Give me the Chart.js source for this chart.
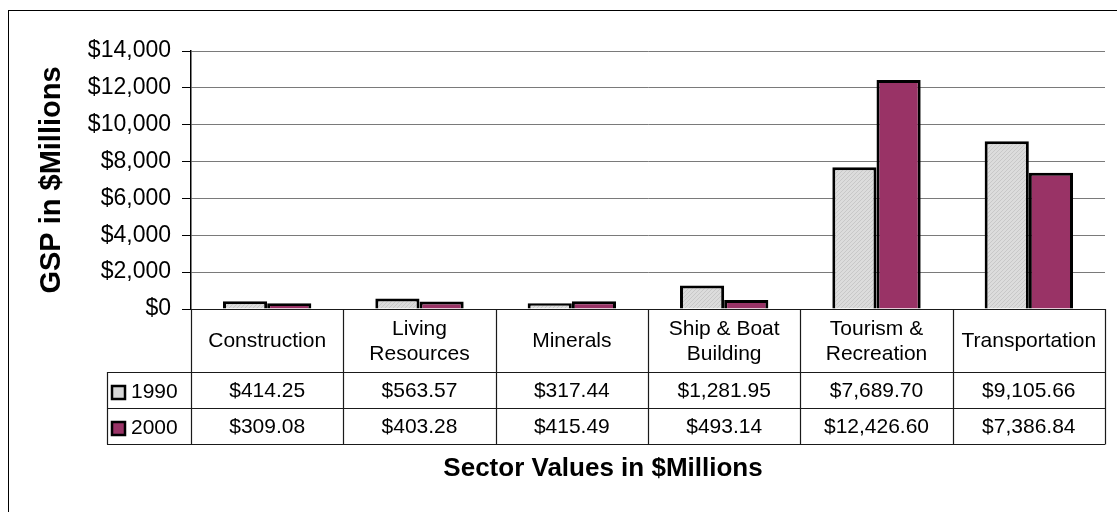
<!DOCTYPE html>
<html>
<head>
<meta charset="utf-8">
<script src="https://cdn.jsdelivr.net/npm/chart.js@4"></script>
<style>
  html, body { margin: 0; padding: 0; background: #fff; }
  canvas { display: block; }
</style>
</head>
<body>
<canvas id="gspChart" width="1117" height="512"></canvas>
<script>
// Chart data
const categories = [
  ["Construction"],
  ["Living", "Resources"],
  ["Minerals"],
  ["Ship & Boat", "Building"],
  ["Tourism &", "Recreation"],
  ["Transportation"],
];
const seriesNames = ["1990", "2000"];
const values1990 = [414.25, 563.57, 317.44, 1281.95, 7689.7, 9105.66];
const values2000 = [309.08, 403.28, 415.49, 493.14, 12426.6, 7386.84];
const yMin = 0;
const yMax = 14000;
const yStep = 2000;

const yTitle = "GSP in $Millions";
const xTitle = "Sector Values in $Millions";

// Format money like the data table
function formatMoney(v, decimals) {
  return "$" + v.toLocaleString("en-US", {
    minimumFractionDigits: decimals,
    maximumFractionDigits: decimals,
  });
}

// Light gray fill with a fine texture for the 1990 bars
function makeGrayPattern() {
  const c = document.createElement("canvas");
  c.width = 4;
  c.height = 4;
  const g = c.getContext("2d");
  g.fillStyle = "#dcdcdc";
  g.fillRect(0, 0, 4, 4);
  g.fillStyle = "#c8c8c8";
  for (let i = 0; i < 4; i++) g.fillRect(i, (i * 3) % 4, 1, 1);
  return g.createPattern(c, "repeat");
}

const colors2000 = "#993366";
const fills = [makeGrayPattern(), colors2000];
const keyFills = ["#d6d6d6", colors2000];

// Data table, frame and titles drawn under the plot
const tablePlugin = {
  id: "dataTable",
  afterDraw(chart) {
    const ctx = chart.ctx;
    const area = chart.chartArea;
    const xs = chart.scales.x;
    const n = categories.length;
    const colW = (area.right - area.left) / n;

    const headTop = area.bottom;
    const row1 = 372;
    const row2 = 408;
    const row3 = 444;
    const legendLeft = 107;

    ctx.save();

    // outer frame
    ctx.strokeStyle = "#000";
    ctx.lineWidth = 1;
    ctx.strokeRect(8.5, 10.5, 1300, 700);

    // table lines
    ctx.strokeStyle = "#1a1a1a";
    ctx.lineWidth = 1.2;
    ctx.beginPath();
    ctx.moveTo(area.left, headTop + 0.5);
    ctx.lineTo(area.right, headTop + 0.5);
    [row1, row2, row3].forEach((y) => {
      ctx.moveTo(legendLeft, y + 0.5);
      ctx.lineTo(area.right, y + 0.5);
    });
    for (let i = 0; i <= n; i++) {
      const x = Math.round(area.left + i * colW) + 0.5;
      ctx.moveTo(x, headTop);
      ctx.lineTo(x, row3 + 0.5);
    }
    ctx.moveTo(legendLeft + 0.5, row1);
    ctx.lineTo(legendLeft + 0.5, row3 + 0.5);
    ctx.stroke();

    // header text
    ctx.fillStyle = "#000";
    ctx.textAlign = "center";
    ctx.textBaseline = "middle";
    ctx.font = "21px 'Liberation Sans', Arial, sans-serif";
    const headMid = (headTop + row1) / 2 + 1;
    const lineH = 25;
    categories.forEach((lines, i) => {
      const cx = xs.getPixelForValue(i);
      const start = headMid - ((lines.length - 1) * lineH) / 2;
      lines.forEach((t, j) => ctx.fillText(t, cx, start + j * lineH));
    });

    // value rows
    const rowMids = [(row1 + row2) / 2 + 1, (row2 + row3) / 2 + 1];
    [values1990, values2000].forEach((vals, r) => {
      vals.forEach((v, i) => {
        ctx.fillText(formatMoney(v, 2), xs.getPixelForValue(i), rowMids[r]);
      });
      // legend key + series name
      ctx.fillStyle = keyFills[r];
      ctx.fillRect(112, rowMids[r] - 5, 13, 13);
      ctx.strokeStyle = "#000";
      ctx.lineWidth = 2.5;
      ctx.strokeRect(112, rowMids[r] - 5, 13, 13);
      ctx.fillStyle = "#000";
      ctx.textAlign = "left";
      ctx.fillText(seriesNames[r], 131, rowMids[r] + 1);
      ctx.textAlign = "center";
    });

    // x title
    ctx.font = "bold 26px 'Liberation Sans', Arial, sans-serif";
    ctx.fillText(xTitle, 603, 469);

    // y title
    ctx.translate(52, (area.top + area.bottom) / 2);
    ctx.rotate(-Math.PI / 2);
    ctx.font = "bold 29px 'Liberation Sans', Arial, sans-serif";
    ctx.fillText(yTitle, 0, 0);

    ctx.restore();
  },
};

const ctx = document.getElementById("gspChart").getContext("2d");
new Chart(ctx, {
  type: "bar",
  data: {
    labels: categories.map((c) => c.join(" ")),
    datasets: [
      {
        label: seriesNames[0],
        data: values1990,
        backgroundColor: fills[0],
        borderColor: "#000",
        borderWidth: 3,
      },
      {
        label: seriesNames[1],
        data: values2000,
        backgroundColor: fills[1],
        borderColor: "#000",
        borderWidth: 3,
      },
    ],
  },
  options: {
    responsive: false,
    animation: false,
    devicePixelRatio: 1,
    layout: {
      padding: { left: 0, right: 12, top: 51, bottom: 203 },
    },
    datasets: {
      bar: { barPercentage: 1, categoryPercentage: 0.58 },
    },
    plugins: {
      legend: { display: false },
      tooltip: { enabled: false },
    },
    scales: {
      x: { display: false },
      y: {
        min: yMin,
        max: yMax,
        afterFit(scale) {
          scale.width = 191;
        },
        ticks: {
          stepSize: yStep,
          color: "#000",
          padding: 11,
          font: { family: "'Liberation Sans', Arial, sans-serif", size: 23 },
          callback: (v) => formatMoney(v, 0),
        },
        grid: {
          color: "#7a7a7a",
          lineWidth: 1,
          tickColor: "#000",
          tickLength: 9,
        },
        border: { color: "#000", width: 1.5 },
      },
    },
  },
  plugins: [tablePlugin],
});
</script>
</body>
</html>
